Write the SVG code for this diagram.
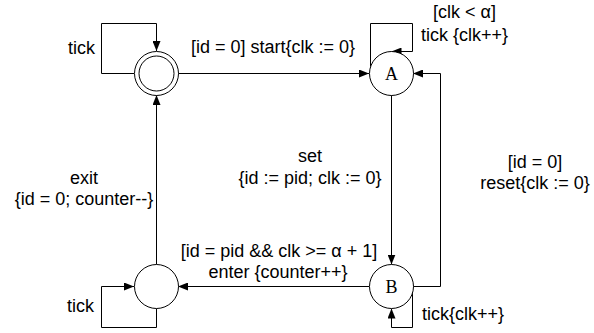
<svg xmlns="http://www.w3.org/2000/svg" width="594" height="333" viewBox="0 0 594 333">
  <style>
    .state { fill: #fff; stroke: #000; stroke-width: 1; }
    .edge { fill: none; stroke: #000; stroke-width: 1; }
    .lbl { font-family: "Liberation Sans", Arial, sans-serif; font-size: 18px; fill: #000; }
    .name { font-family: "Liberation Serif", "Times New Roman", serif; font-size: 18px; fill: #000; text-anchor: middle; }
    .mid { text-anchor: middle; }
  </style>
  <defs>
    <marker id="arrow" markerUnits="userSpaceOnUse" markerWidth="10" markerHeight="8" refX="10" refY="4" orient="auto">
      <path d="M0,0 L10,4 L0,8 Z" fill="#000"/>
    </marker>
  </defs>

  <rect width="594" height="333" fill="#fff"/>

  <!-- transitions -->
  <g id="connectors">
    <path class="edge" d="M134,73.5 H101.5 V23.5 H156.5 V51" marker-end="url(#arrow)"/>
    <path class="edge" d="M178,73.5 H369" marker-end="url(#arrow)"/>
    <path class="edge" d="M370.5,66.5 V23.5 H412.5 V51.5 H391.5" marker-end="url(#arrow)"/>
    <path class="edge" d="M391.5,95 V264.5" marker-end="url(#arrow)"/>
    <path class="edge" d="M413,286.5 H440.5 V73.5 H413" marker-end="url(#arrow)"/>
    <path class="edge" d="M412.5,292 V327.5 H391.5 V308.5" marker-end="url(#arrow)"/>
    <path class="edge" d="M369,286.5 H178" marker-end="url(#arrow)"/>
    <path class="edge" d="M156.5,308.5 V327.5 H101.5 V286.5 H134" marker-end="url(#arrow)"/>
    <path class="edge" d="M156.5,264.5 V95" marker-end="url(#arrow)"/>
  </g>

  <!-- transition labels -->
  <g id="labels">
    <text class="lbl" x="68" y="54">tick</text>
    <text class="lbl mid" x="273" y="53">[id = 0] start{clk := 0}</text>
    <text class="lbl mid" x="464.5" y="18">[clk &lt; α]</text>
    <text class="lbl mid" x="464.5" y="41">tick {clk++}</text>
    <text class="lbl mid" x="310" y="162">set</text>
    <text class="lbl mid" x="310" y="184">{id := pid; clk := 0}</text>
    <text class="lbl mid" x="535" y="168">[id = 0]</text>
    <text class="lbl mid" x="535" y="189">reset{clk := 0}</text>
    <text class="lbl mid" x="84" y="184">exit</text>
    <text class="lbl mid" x="84" y="205">{id = 0; counter--}</text>
    <text class="lbl mid" x="279" y="257">[id = pid &amp;&amp; clk &gt;= α + 1]</text>
    <text class="lbl mid" x="278" y="278">enter {counter++}</text>
    <text class="lbl" x="67" y="312">tick</text>
    <text class="lbl" x="422" y="320">tick{clk++}</text>
  </g>

  <!-- states -->
  <g id="idle">
    <circle class="state" cx="156.5" cy="73.5" r="22"/>
    <circle class="state" cx="156.5" cy="73.5" r="17.5"/>
  </g>
  <g id="A">
    <circle class="state" cx="391.5" cy="73.5" r="22"/>
    <text class="name" x="391.5" y="79.5">A</text>
  </g>
  <g id="B">
    <circle class="state" cx="391.5" cy="286.5" r="22"/>
    <text class="name" x="391.5" y="292.5">B</text>
  </g>
  <g id="critical">
    <circle class="state" cx="156.5" cy="286.5" r="22"/>
  </g>
</svg>
